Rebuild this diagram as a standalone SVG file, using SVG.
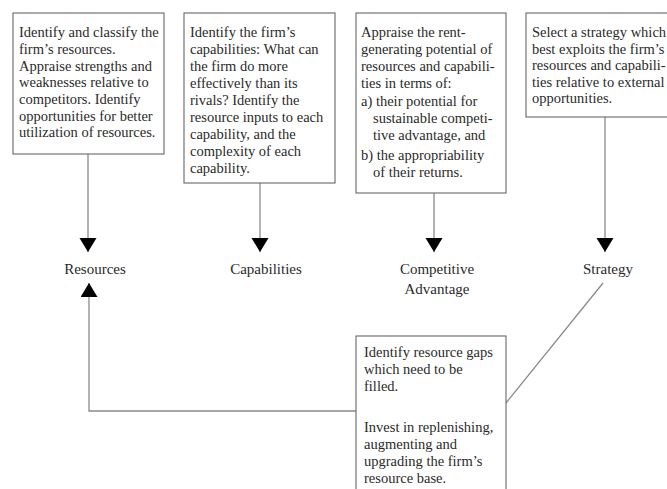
<svg xmlns="http://www.w3.org/2000/svg" width="667" height="489" viewBox="0 0 667 489">
<style>
.box{fill:#fff;stroke:#666;stroke-width:1.1}
.t{font-family:"Liberation Serif","Times New Roman",serif;font-size:14.5px;fill:#2a2a2a}
.lbl{font-family:"Liberation Serif","Times New Roman",serif;font-size:15px;fill:#2a2a2a;text-anchor:middle}
.c{fill:none;stroke:#8a8a8a;stroke-width:1.3}
</style>
<defs>
<marker id="ah" markerUnits="userSpaceOnUse" markerWidth="16" markerHeight="18" refX="14" refY="8.5" orient="auto" viewBox="0 0 16 18">
<path d="M0,0 L14,8.5 L0,17 z" fill="#000"/>
</marker>
</defs>
<rect width="667" height="489" fill="#fff"/>
<g id="connectors">
<line class="c" x1="88" y1="154" x2="88" y2="252" marker-end="url(#ah)"/>
<line class="c" x1="260" y1="183" x2="260" y2="252" marker-end="url(#ah)"/>
<line class="c" x1="434" y1="193" x2="434" y2="252" marker-end="url(#ah)"/>
<line class="c" x1="605" y1="117" x2="605" y2="252" marker-end="url(#ah)"/>
<polyline class="c" points="356,411 89,411 89,283" marker-end="url(#ah)"/>
<line class="c" x1="603" y1="283" x2="506" y2="403"/>
</g>
<g id="box-resources">
<rect class="box" x="13" y="13" width="151" height="141"/>
<text class="t" x="19" y="37">Identify and classify the</text>
<text class="t" x="19" y="54">firm’s resources.</text>
<text class="t" x="19" y="70.5">Appraise strengths and</text>
<text class="t" x="19" y="87">weaknesses relative to</text>
<text class="t" x="19" y="104">competitors. Identify</text>
<text class="t" x="19" y="120.5">opportunities for better</text>
<text class="t" x="19" y="137">utilization of resources.</text>
</g>
<g id="box-capabilities">
<rect class="box" x="184" y="13" width="151" height="170"/>
<text class="t" x="190" y="37">Identify the firm’s</text>
<text class="t" x="190" y="54">capabilities: What can</text>
<text class="t" x="190" y="71">the firm do more</text>
<text class="t" x="190" y="88">effectively than its</text>
<text class="t" x="190" y="105">rivals? Identify the</text>
<text class="t" x="190" y="122">resource inputs to each</text>
<text class="t" x="190" y="139">capability, and the</text>
<text class="t" x="190" y="156">complexity of each</text>
<text class="t" x="190" y="173">capability.</text>
</g>
<g id="box-advantage">
<rect class="box" x="356" y="13" width="150" height="180"/>
<text class="t" x="361" y="37">Appraise the rent-</text>
<text class="t" x="361" y="54">generating potential of</text>
<text class="t" x="361" y="71">resources and capabili-</text>
<text class="t" x="361" y="88">ties in terms of:</text>
<text class="t" x="361" y="106">a) their potential for</text>
<text class="t" x="373" y="123">sustainable competi-</text>
<text class="t" x="373" y="140">tive advantage, and</text>
<text class="t" x="361" y="160">b) the appropriability</text>
<text class="t" x="373" y="177">of their returns.</text>
</g>
<g id="box-strategy">
<rect class="box" x="526" y="13" width="150" height="104"/>
<text class="t" x="532" y="37">Select a strategy which</text>
<text class="t" x="532" y="53.5">best exploits the firm’s</text>
<text class="t" x="532" y="70">resources and capabili-</text>
<text class="t" x="532" y="86.5">ties relative to external</text>
<text class="t" x="532" y="103">opportunities.</text>
</g>
<g id="box-gaps">
<rect class="box" x="356" y="336" width="150" height="170"/>
<text class="t" x="364" y="357">Identify resource gaps</text>
<text class="t" x="364" y="374">which need to be</text>
<text class="t" x="364" y="391">filled.</text>
<text class="t" x="364" y="432">Invest in replenishing,</text>
<text class="t" x="364" y="449">augmenting and</text>
<text class="t" x="364" y="466">upgrading the firm’s</text>
<text class="t" x="364" y="483">resource base.</text>
</g>
<g id="label-resources"><text class="lbl" x="95" y="274">Resources</text></g>
<g id="label-capabilities"><text class="lbl" x="266" y="274">Capabilities</text></g>
<g id="label-advantage"><text class="lbl" x="437" y="274">Competitive</text><text class="lbl" x="437" y="294">Advantage</text></g>
<g id="label-strategy"><text class="lbl" x="608" y="274">Strategy</text></g>
</svg>
